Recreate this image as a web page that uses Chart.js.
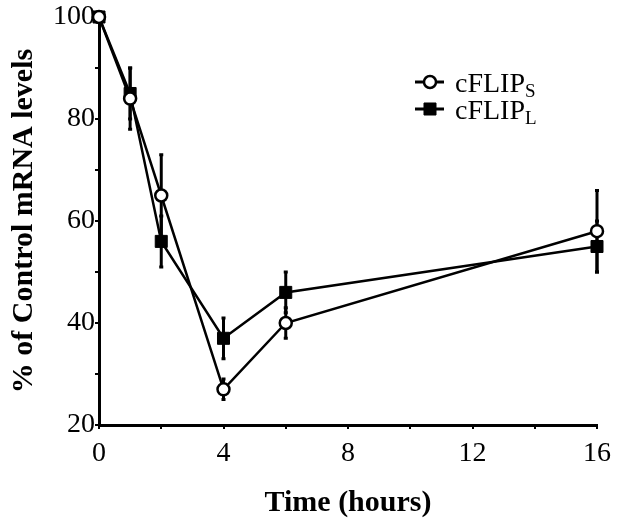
<!DOCTYPE html>
<html>
<head>
<meta charset="utf-8">
<title>cFLIP mRNA levels</title>
<script src="https://cdn.jsdelivr.net/npm/chart.js@4/dist/chart.umd.min.js"></script>
<style>
    html, body { margin: 0; padding: 0; background: #fff; }
    #wrap { width: 623px; height: 525px; }
</style>
</head>
<body>
<div id="wrap"><canvas id="flip-chart" width="623" height="525"></canvas></div>
<script>
    "use strict";

    /** Values */
    var hours = [0, 1, 2, 4, 6, 16];
    var flipS = [100, 84, 65, 27, 40, 58];
    var flipSErr = [0, 6, 8, 2, 3, 8];
    var flipL = [100, 85, 56, 37, 46, 55];
    var flipLErr = [0, 5, 5, 4, 4, 5];
    var xTicks = [0, 4, 8, 12, 16];
    var yTicks = [20, 40, 60, 80, 100];

    var serif = "'Liberation Serif', 'Times New Roman', serif";

    function points(ys) {
        return hours.map(function (h, i) { return { x: h, y: ys[i] }; });
    }

    /** Vertical error bars, drawn under the markers */
    var errorBars = {
        id: 'errorBars',
        beforeDatasetsDraw: function (chart) {
            var ctx = chart.ctx;
            var yScale = chart.scales.y;
            ctx.save();
            ctx.strokeStyle = '#000';
            ctx.lineWidth = 3;
            chart.data.datasets.forEach(function (ds, di) {
                var meta = chart.getDatasetMeta(di);
                meta.data.forEach(function (pt, i) {
                    var e = ds.errors[i];
                    if (!e) return;
                    var top = yScale.getPixelForValue(ds.data[i].y + e);
                    var bot = yScale.getPixelForValue(ds.data[i].y - e);
                    ctx.beginPath();
                    ctx.moveTo(pt.x, top);
                    ctx.lineTo(pt.x, bot);
                    ctx.stroke();
                    ctx.beginPath();
                    ctx.moveTo(pt.x - 2, top);
                    ctx.lineTo(pt.x + 2, top);
                    ctx.moveTo(pt.x - 2, bot);
                    ctx.lineTo(pt.x + 2, bot);
                    ctx.stroke();
                });
            });
            ctx.restore();
        }
    };

    /** Legend with subscripts, top right */
    var subLegend = {
        id: 'subLegend',
        afterDraw: function (chart) {
            var ctx = chart.ctx;
            var rows = [
                { ds: chart.data.datasets[0], sub: 'S', y: 82 },
                { ds: chart.data.datasets[1], sub: 'L', y: 109 }
            ];
            ctx.save();
            rows.forEach(function (r) {
                ctx.strokeStyle = '#000';
                ctx.lineWidth = 3;
                ctx.beginPath();
                ctx.moveTo(415, r.y);
                ctx.lineTo(444, r.y);
                ctx.stroke();

                ctx.fillStyle = r.ds.pointBackgroundColor;
                ctx.lineWidth = r.ds.pointBorderWidth;
                Chart.helpers.drawPoint(ctx, {
                    pointStyle: r.ds.pointStyle,
                    radius: r.ds.pointRadius,
                    borderWidth: r.ds.pointBorderWidth
                }, 430, r.y);

                ctx.fillStyle = '#000';
                ctx.textBaseline = 'alphabetic';
                ctx.font = '28px ' + serif;
                var txt = 'cFLIP';
                ctx.fillText(txt, 455, r.y + 10);
                var w = ctx.measureText(txt).width;
                ctx.font = '19px ' + serif;
                ctx.fillText(r.sub, 455 + w, r.y + 15);
            });
            ctx.restore();
        }
    };

    var ctx = document.getElementById('flip-chart').getContext('2d');
    var flipChart = new Chart(ctx, {
        type: 'line',
        data: {
            datasets: [{
                label: 'cFLIPS',
                data: points(flipS),
                errors: flipSErr,
                borderColor: '#000',
                borderWidth: 2.5,
                pointStyle: 'circle',
                pointRadius: 6,
                pointBorderWidth: 2.5,
                pointBackgroundColor: '#fff',
                pointBorderColor: '#000',
                tension: 0,
                clip: false
            }, {
                label: 'cFLIPL',
                data: points(flipL),
                errors: flipLErr,
                borderColor: '#000',
                borderWidth: 2.5,
                pointStyle: 'rect',
                pointRadius: 8.5,
                pointBorderWidth: 1,
                pointBackgroundColor: '#000',
                pointBorderColor: '#000',
                tension: 0,
                clip: false
            }]
        },
        options: {
            responsive: false,
            animation: false,
            layout: { padding: { top: 17, right: 26, left: 0, bottom: 0 } },
            plugins: {
                legend: { display: false },
                tooltip: { enabled: false }
            },
            scales: {
                x: {
                    type: 'linear',
                    min: 0,
                    max: 16,
                    afterFit: function (s) { s.height = 100; },
                    border: { display: true, color: '#000', width: 3 },
                    grid: { drawOnChartArea: false, drawTicks: true, tickLength: 4, tickColor: '#000', lineWidth: 2 },
                    ticks: {
                        stepSize: 2,
                        autoSkip: false,
                        maxRotation: 0,
                        padding: 8,
                        color: '#000',
                        font: { family: serif, size: 28 },
                        callback: function (v) { return xTicks.indexOf(v) >= 0 ? String(v) : ''; }
                    },
                    title: {
                        display: true,
                        text: 'Time (hours)',
                        color: '#000',
                        font: { family: serif, size: 30, weight: 'bold' },
                        padding: { top: 0, bottom: 4 }
                    }
                },
                y: {
                    min: 20,
                    max: 100,
                    afterFit: function (s) { s.width = 99; },
                    border: { display: true, color: '#000', width: 3 },
                    grid: { drawOnChartArea: false, drawTicks: true, tickLength: 4, tickColor: '#000', lineWidth: 2 },
                    ticks: {
                        stepSize: 10,
                        autoSkip: false,
                        padding: 0,
                        color: '#000',
                        font: { family: serif, size: 28 },
                        callback: function (v) { return yTicks.indexOf(v) >= 0 ? String(v) : ''; }
                    },
                    title: {
                        display: true,
                        text: '% of Control mRNA levels',
                        color: '#000',
                        font: { family: serif, size: 30, weight: 'bold' },
                        padding: { top: 6, bottom: 0 }
                    }
                }
            }
        },
        plugins: [errorBars, subLegend]
    });
</script>
</body>
</html>
